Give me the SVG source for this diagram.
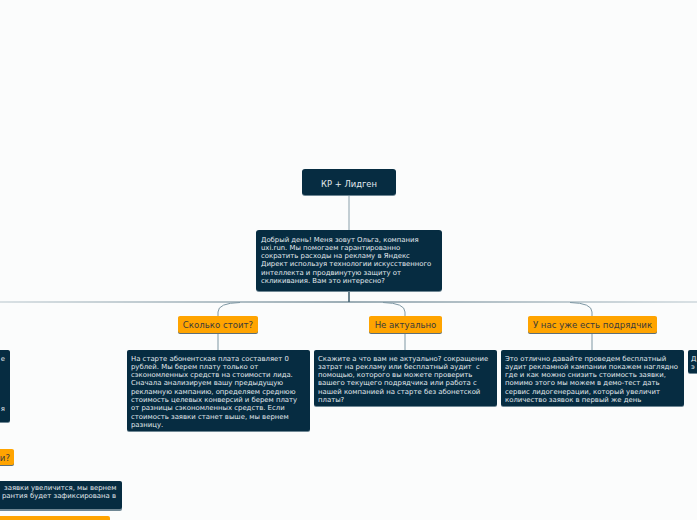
<svg xmlns="http://www.w3.org/2000/svg" width="697" height="520" viewBox="0 0 697 520">
<style>
.bg{fill:#fbfcfc}
.dk{fill:#062c41}
.dkb{fill:#6f8794}
.or{fill:#ffa400}
.orb{fill:#5d6f78}
.t{font-family:"DejaVu Sans",Verdana,sans-serif;font-size:6.9px;fill:#e3eaee}
.ot{font-family:"DejaVu Sans",Verdana,sans-serif;font-size:8.6px;fill:#3a3a3a}
.tt{font-family:"DejaVu Sans",Verdana,sans-serif;font-size:8.4px;fill:#e3eaee}
.ln{fill:none;stroke:#7e97a3;stroke-width:1}
</style>
<defs>
<linearGradient id="hg" x1="0" y1="0" x2="697" y2="0" gradientUnits="userSpaceOnUse">
<stop offset="0" stop-color="#b7c5cc"/>
<stop offset="0.5" stop-color="#3f6070"/>
<stop offset="1" stop-color="#b7c5cc"/>
</linearGradient>
</defs>
<rect class="bg" x="0" y="0" width="697" height="520"/>
<g id="connectors">
<line x1="349" y1="195" x2="349" y2="230" stroke="#8aa0ab" stroke-width="1"/>
<line x1="349" y1="291" x2="349" y2="302" stroke="#0d3347" stroke-width="1.2"/>
<line x1="0" y1="302" x2="697" y2="302" stroke="url(#hg)" stroke-width="1.2"/>
<path class="ln" d="M240 302.5 Q218 303 218 312 L218 317"/>
<path class="ln" d="M383 302.5 Q405 303 405 312 L405 317"/>
<path class="ln" d="M570 302.5 Q592 303 592 312 L592 317"/>
<line class="ln" x1="218" y1="334" x2="218" y2="350"/>
<line class="ln" x1="405" y1="334" x2="405" y2="350"/>
<line class="ln" x1="592" y1="334" x2="592" y2="350"/>
</g>
<g id="node-root">
<rect class="dkb" x="302" y="170" width="94" height="26" rx="3"/>
<rect class="dk" x="302" y="169" width="94" height="26" rx="3"/>
<text class="tt" x="349" y="187" text-anchor="middle">КР + Лидген</text>
</g>
<g id="node-intro">
<rect class="dkb" x="256" y="231" width="186" height="61" rx="3"/>
<rect class="dk" x="256" y="230" width="186" height="61" rx="3"/>
<text class="t" x="261" y="241.5">Добрый день! Меня зовут Ольга, компания</text>
<text class="t" x="261" y="249.8">uxi.run. Мы помогаем гарантированно</text>
<text class="t" x="261" y="258.1">сократить расходы на рекламу в Яндекс</text>
<text class="t" x="261" y="266.4">Директ используя технологии искусственного</text>
<text class="t" x="261" y="274.7">интеллекта и продвинутую защиту от</text>
<text class="t" x="261" y="283">скликивания. Вам это интересно?</text>
</g>
<g id="node-cost">
<rect class="orb" x="178" y="317" width="80" height="17" rx="2"/>
<rect class="or" x="178" y="316" width="80" height="17" rx="2"/>
<text class="ot" x="218" y="328" text-anchor="middle">Сколько стоит?</text>
</g>
<g id="node-cost-answer">
<rect class="dkb" x="127" y="351" width="183" height="81" rx="2"/>
<rect class="dk" x="127" y="350" width="183" height="81" rx="2"/>
<text class="t" x="131" y="360.5">На старте абонентская плата составляет 0</text>
<text class="t" x="131" y="368.8">рублей. Мы берем плату только от</text>
<text class="t" x="131" y="377.1">сэкономленных средств на стоимости лида.</text>
<text class="t" x="131" y="385.4">Сначала анализируем вашу предыдущую</text>
<text class="t" x="131" y="393.7">рекламную кампанию, определяем среднюю</text>
<text class="t" x="131" y="402">стоимость целевых конверсий и берем плату</text>
<text class="t" x="131" y="410.3">от разницы сэкономленных средств. Если</text>
<text class="t" x="131" y="418.6">стоимость заявки станет выше, мы вернем</text>
<text class="t" x="131" y="427">разницу.</text>
</g>
<g id="node-notactual">
<rect class="orb" x="369" y="317" width="73" height="17" rx="2"/>
<rect class="or" x="369" y="316" width="73" height="17" rx="2"/>
<text class="ot" x="405.5" y="328" text-anchor="middle">Не актуально</text>
</g>
<g id="node-notactual-answer">
<rect class="dkb" x="314" y="351" width="183" height="56" rx="2"/>
<rect class="dk" x="314" y="350" width="183" height="56" rx="2"/>
<text class="t" x="318" y="360.5">Скажите а что вам не актуально? сокращение</text>
<text class="t" x="318" y="368.8" style="white-space:pre">затрат на рекламу или бесплатный аудит  с</text>
<text class="t" x="318" y="377.1">помощью, которого вы можете проверить</text>
<text class="t" x="318" y="385.4">вашего текущего подрядчика или работа с</text>
<text class="t" x="318" y="393.7">нашей компанией на старте без абонетской</text>
<text class="t" x="318" y="402">платы?</text>
</g>
<g id="node-contractor">
<rect class="orb" x="528" y="317" width="129" height="17" rx="2"/>
<rect class="or" x="528" y="316" width="129" height="17" rx="2"/>
<text class="ot" x="592.5" y="328" text-anchor="middle">У нас уже есть подрядчик</text>
</g>
<g id="node-contractor-answer">
<rect class="dkb" x="501" y="351" width="183" height="56" rx="2"/>
<rect class="dk" x="501" y="350" width="183" height="56" rx="2"/>
<text class="t" x="505" y="360.5">Это отлично давайте проведем бесплатный</text>
<text class="t" x="505" y="368.8">аудит рекламной кампании покажем наглядно</text>
<text class="t" x="505" y="377.1">где и как можно снизить стоимость заявки,</text>
<text class="t" x="505" y="385.4">помимо этого мы можем в демо-тест дать</text>
<text class="t" x="505" y="393.7">сервис лидогенерации, который увеличит</text>
<text class="t" x="505" y="402">количество заявок в первый же день</text>
</g>
<g id="node-right-cut">
<rect class="dkb" x="688" y="351" width="20" height="23" rx="2"/>
<rect class="dk" x="688" y="350" width="20" height="23" rx="2"/>
<text class="t" x="691" y="360.5">Д</text>
<text class="t" x="691" y="368.8">э</text>
</g>
<g id="node-left-cut">
<rect class="dkb" x="-20" y="351" width="30" height="72" rx="2"/>
<rect class="dk" x="-20" y="350" width="30" height="72" rx="2"/>
<text class="t" x="5" y="360.5" text-anchor="end">е</text>
<text class="t" x="5" y="410.5" text-anchor="end">я</text>
</g>
<g id="node-left-question">
<rect class="orb" x="-20" y="450" width="34" height="16" rx="2"/>
<rect class="or" x="-20" y="449" width="34" height="16" rx="2"/>
<text class="ot" x="10" y="461" text-anchor="end">и?</text>
</g>
<g id="node-left-answer">
<rect class="dkb" x="-20" y="482" width="142" height="29" rx="2"/>
<rect class="dk" x="-20" y="481" width="142" height="28" rx="2"/>
<text class="t" x="4" y="489.5">заявки увеличится, мы вернем</text>
<text class="t" x="2" y="497.8">рантия будет зафиксирована в</text>
</g>
<g id="node-left-bottom">
<rect class="or" x="-20" y="516" width="130" height="20" rx="2"/>
</g>
</svg>
